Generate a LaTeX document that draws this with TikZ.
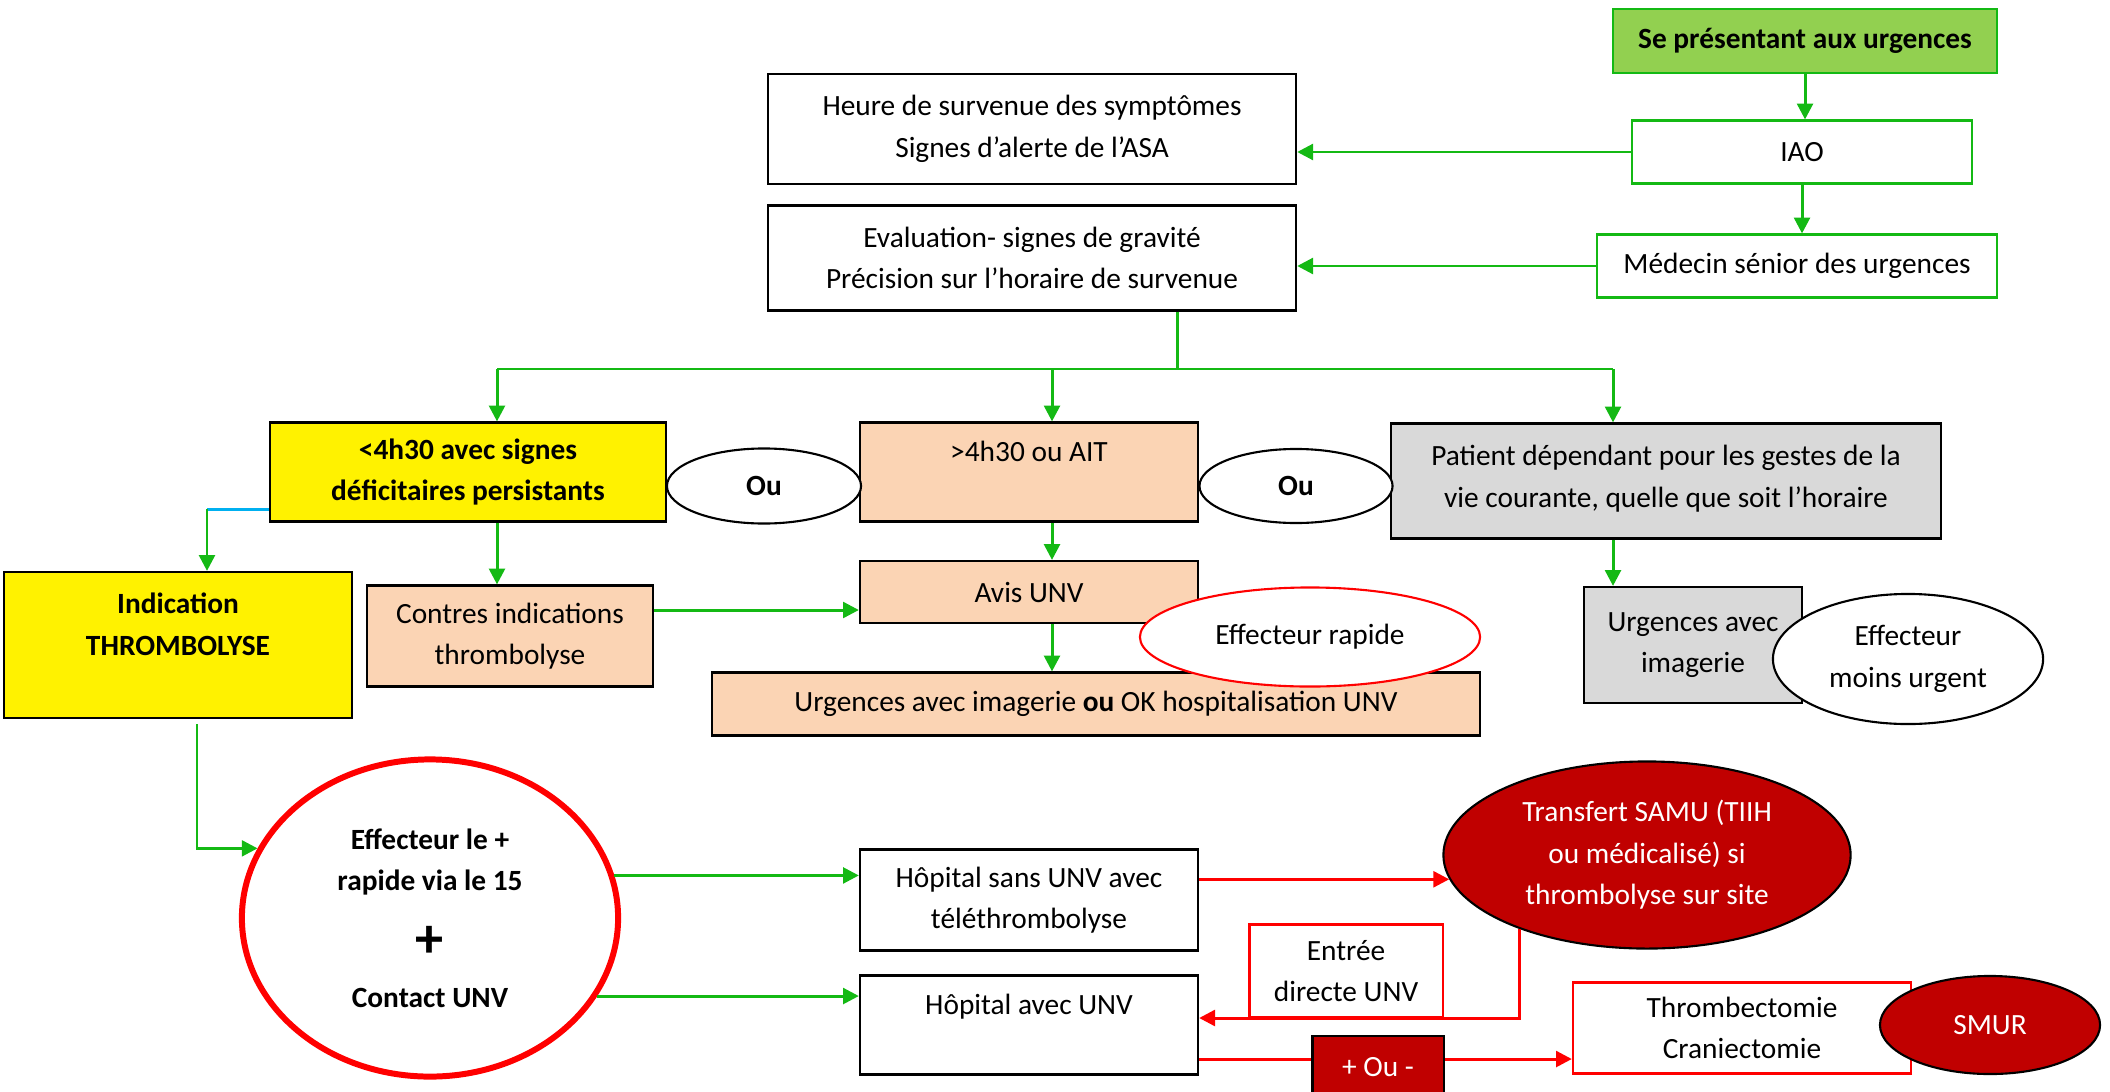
\documentclass[tikz,border=0pt]{standalone}
\usepackage{fontspec}
\setmainfont{Carlito}
\usetikzlibrary{arrows.meta,shapes}

\definecolor{vert}{RGB}{20,185,20}
\definecolor{vertclair}{RGB}{146,208,80}
\definecolor{peche}{RGB}{251,212,180}
\definecolor{gris}{RGB}{217,217,217}
\definecolor{rougefonce}{RGB}{192,0,0}
\definecolor{bleu}{RGB}{0,176,240}

\begin{document}
\begin{tikzpicture}[x=0.01cm,y=-0.01cm]
\tikzset{every node/.style={font=\fontsize{8.35}{11.8}\selectfont},
  gras/.style={font=\fontsize{8.35}{11.8}\selectfont\bfseries},
  boite/.style={draw,line width=0.6pt,align=center,inner sep=1pt},
  bulle/.style={ellipse,draw,line width=0.6pt,align=center,inner sep=0pt,fill=white},
  pointe/.style={-{Triangle[length=4.5pt,width=4.5pt]}},
  fleche/.style={draw,pointe,vert,line width=0.85pt},
  trait/.style={draw,vert,line width=0.85pt},
  fleche rouge/.style={draw,pointe,red,line width=0.85pt}}
\useasboundingbox (0,0) rectangle (2110,1091);

% haut
\node at (1805,41) [boite,gras,fill=vertclair,draw=vert,minimum width=3.83cm,minimum height=0.64cm] (urg) {Se présentant aux urgences};
\node at (1802,152) [boite,draw=vert,minimum width=3.4cm,minimum height=0.63cm] (iao) {IAO};
\node at (1797,266) [boite,draw=vert,minimum width=3.99cm,minimum height=0.63cm] (senior) {Médecin sénior des urgences};
\node at (1032,129) [boite,minimum width=5.28cm,minimum height=1.1cm] (heure) {Heure de survenue des symptômes\\Signes d’alerte de l’ASA};
\node at (1032,258) [boite,minimum width=5.28cm,minimum height=1.05cm] (evalu) {Evaluation- signes de gravité\\Précision sur l’horaire de survenue};

% trois cas
\node at (468,472) [boite,gras,fill=yellow,minimum width=3.96cm,minimum height=0.99cm] (inf) {<4h30 avec signes\\déficitaires persistants};
\node at (1029,472) [boite,fill=peche,minimum width=3.38cm,minimum height=0.99cm] (late) {>4h30 ou AIT\\\mbox{}};
\node at (1666,481) [boite,fill=gris,minimum width=5.49cm,minimum height=1.15cm] (dep) {Patient dépendant pour les gestes de la\\vie courante, quelle que soit l’horaire\\[-9pt]\mbox{}};
\node at (764,486) [bulle,gras,minimum width=1.94cm,minimum height=0.75cm] (ou1) {Ou};
\node at (1296,486) [bulle,gras,minimum width=1.93cm,minimum height=0.74cm] (ou2) {Ou};

\node at (178,645) [boite,gras,fill=yellow,minimum width=3.47cm,minimum height=1.46cm] (indic) {Indication\\THROMBOLYSE\\\mbox{}};
\node at (510,636) [boite,fill=peche,minimum width=2.86cm,minimum height=1.01cm] (ci) {Contres indications\\thrombolyse};
\node at (1029,592) [boite,fill=peche,minimum width=3.38cm,minimum height=0.62cm] (avis) {Avis UNV};
\node at (1096,704) [boite,fill=peche,minimum width=7.67cm,minimum height=0.63cm] (imag) {Urgences avec imagerie \textbf{ou} OK hospitalisation UNV};
\node at (1310,637) [bulle,draw=red,minimum width=3.4cm,minimum height=0.99cm] (rapide) {Effecteur rapide};
\node at (1693,645) [boite,fill=gris,minimum width=2.18cm,minimum height=1.16cm] (urgimg) {Urgences avec\\imagerie};
\node at (1908,659) [bulle,minimum width=2.7cm,minimum height=1.3cm] (moins) {Effecteur\\moins urgent};

% bas
\node at (430,918) [bulle,gras,draw=red,line width=1.7pt,minimum width=3.76cm,minimum height=3.17cm] (eff15) {Effecteur le +\\rapide via le 15\\[7.1pt]{\fontsize{16}{16}\selectfont +}\\[2.4pt]Contact UNV};
\node at (1029,900) [boite,minimum width=3.38cm,minimum height=1.01cm] (hsans) {Hôpital sans UNV avec\\téléthrombolyse};
\node at (1029,1025) [boite,minimum width=3.38cm,minimum height=0.99cm] (havec) {Hôpital avec UNV\\\mbox{}};
\node at (1647,855) [bulle,fill=rougefonce,text=white,minimum width=4.07cm,minimum height=1.87cm] (samu) {Transfert SAMU (TIIH\\ou médicalisé) si\\thrombolyse sur site};
\node at (1346,971) [boite,draw=red,minimum width=1.93cm,minimum height=0.93cm] (entree) {Entrée\\directe UNV};
\node at (1742,1028) [boite,draw=red,minimum width=3.38cm,minimum height=0.91cm] (thromb) {Thrombectomie\\Craniectomie};
\node at (1990,1025) [bulle,fill=rougefonce,text=white,minimum width=2.2cm,minimum height=0.98cm] (smur) {SMUR};

\path [fleche] (urg.south) -- (urg.south |- iao.north);
\path [fleche] (iao.south) -- (iao.south |- senior.north);
\path [fleche] (iao.west) -- (iao.west -| heure.east);
\path [fleche] (senior.west) -- (senior.west -| evalu.east);

\coordinate (br) at (1177,369);
\coordinate (brL) at (497,369);
\coordinate (brM) at (1052,369);
\coordinate (brR) at (1613,369);
\path [trait] (evalu.south -| br) -- (br);
\path [trait] (brL) -- (brR);
\path [fleche] (brL) -- (brL |- inf.north);
\path [fleche] (brM) -- (brM |- late.north);
\path [fleche] (brR) -- (brR |- dep.north);

\coordinate (bl) at (207,509);
\path [draw,bleu,line width=0.85pt] (bl -| inf.west) -- (bl);
\path [fleche] (bl) -- (bl |- indic.north);
\path [fleche] (inf.south -| brL) -- (ci.north -| brL);
\path [fleche] (late.south -| brM) -- (avis.north -| brM);
\path [fleche] (avis.south -| brM) -- (imag.north -| brM);
\coordinate (cy) at (0,610);
\path [fleche] (ci.east |- cy) -- (avis.west |- cy);
\path [fleche] (dep.south -| brR) -- (urgimg.north -| brR);

\coordinate (tl) at (197,724);
\path [fleche] (tl) |- (eff15.158);
\path [fleche] (eff15.13) -- (eff15.13 -| hsans.west);
\path [fleche] (eff15.-25) -- (eff15.-25 -| havec.west);
\path [fleche rouge] (samu.187 -| hsans.east) -- (samu.187);
\path [fleche rouge] (samu.210) |- ([yshift=0.07cm]havec.east);
\path [fleche rouge] ([yshift=-0.34cm]havec.east) -- ([yshift=-0.34cm]havec.east -| thromb.west);

\node at (1378,1067) [boite,fill=rougefonce,text=white,minimum width=1.31cm,minimum height=0.62cm] (plusou) {+ Ou -};
\end{tikzpicture}
\end{document}
